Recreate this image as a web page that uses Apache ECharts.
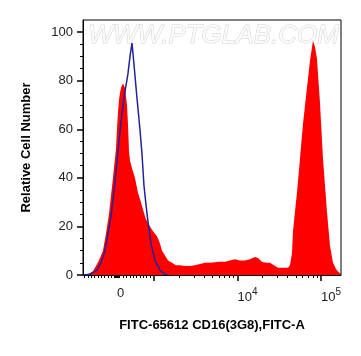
<!DOCTYPE html>
<html>
<head>
<meta charset="utf-8">
<script src="https://cdn.jsdelivr.net/npm/echarts@6/dist/echarts.min.js"></script>
<style>
html,body{margin:0;padding:0;background:#fff;}
#chart{width:361px;height:356px;}
</style>
</head>
<body>
<div id="chart"></div>
<script>
// x values are in biexponential display units (decades: 3 = 10^3, 4 = 10^4, 5 = 10^5; 0 sits at 2.557)
const redX = [2.150,2.210,2.269,2.293,2.341,2.389,2.425,2.461,2.509,2.545,2.557,2.569,2.581,2.593,2.605,2.629,2.653,2.677,2.689,2.701,2.713,
              2.737,2.772,2.808,2.844,2.868,2.904,2.952,2.988,3.036,3.072,3.096,3.132,3.168,3.216,3.263,3.311,3.371,3.431,3.491,3.551,
              3.611,3.671,3.731,3.790,3.850,3.910,3.970,4.030,4.090,4.150,4.210,4.246,4.293,4.341,4.389,4.437,4.485,4.545,4.605,4.629,
              4.653,4.665,4.689,4.713,4.749,4.784,4.832,4.868,4.904,4.928,4.952,4.988,5.024,5.072,5.108,5.144,5.180,5.216,5.240];
const redY = [0,0.3,1.5,3,6,10,17,25,40,52,60,67,72,75,77,79,77,70,62,51,47,
              44,40,34,30,27,23,20,18,16,13,10,8,6,5,4,4,3.7,3.7,4,4.5,
              5,5,5.3,5.5,5.5,6,6.5,6,6,6.5,7.4,7,5.5,5,5,4,3,3,3,4,
              9,18,26,34,48,62,77,88,96.5,94,89,71,48,26,12,5,2.5,1,0.5];

const blueX = [2.150,2.234,2.317,2.365,2.413,2.449,2.485,2.533,2.569,2.605,2.641,2.665,2.689,2.713,2.737,2.760,2.796,2.832,2.856,2.880,2.904,2.928,2.964,3.012,3.072,3.132,3.168];
const blueY = [0,0.3,2,5,10,17,24,38,51,63,73,78,83,90,95.5,87,73,60,50,37,29,22,13,6,2,0.3,0];

const xMajorTicks = [3, 4, 5];
const xLabelValues = [2.557, 4, 5];
const xLabelTexts = ['0', '10|4', '10|5'];
const xMinorTicks = [2.17,2.21,2.25,2.29,2.33,2.37,2.41,2.45,2.49,2.52,2.53,2.54,2.55,2.56,2.57,2.58,2.59,2.63,2.67,2.71,2.75,2.79,2.83,2.87,2.91,2.95,
                     3.301,3.477,3.602,3.699,3.778,3.845,3.903,3.954,
                     4.301,4.477,4.602,4.699,4.778,4.845,4.903,4.954];
const yMajorTicks = [0, 20, 40, 60, 80, 100];
const yMinorTicks = [5,10,15,25,30,35,45,50,55,65,70,75,85,90,95];

const FONT = '"Liberation Sans", Arial, sans-serif';
const xMin = 2.15, xMax = 5.24, yMin = 0, yMax = 105;

const chart = echarts.init(document.getElementById('chart'), null, {renderer: 'canvas'});

function xLabelFmt(v) {
  let best = 0;
  for (let i = 0; i < xLabelValues.length; i++) {
    if (Math.abs(xLabelValues[i] - v) < Math.abs(xLabelValues[best] - v)) best = i;
  }
  const t = xLabelTexts[best];
  if (t.indexOf('|') < 0) return '{b|' + t + '}';
  const p = t.split('|');
  return '{b|' + p[0] + '}{s|' + p[1] + '}';
}

const option = {
  animation: false,
  backgroundColor: '#fff',
  grid: {left: 83, right: 20, top: 20, bottom: 81, show: true, borderColor: '#000', borderWidth: 1, backgroundColor: 'transparent', containLabel: false},
  graphic: [{
    type: 'text', left: 88, top: 22, z: 0,
    style: {text: 'WWW.PTGLAB.COM', font: 'italic 26px ' + FONT, fill: '#fbfbfb', stroke: '#d2d2d2', lineWidth: 1}
  }],
  xAxis: [{
    type: 'value', min: xMin, max: xMax, position: 'bottom',
    axisLine: {show: true, lineStyle: {color: '#000', width: 1}},
    axisTick: {show: true, length: 6, customValues: xMajorTicks, lineStyle: {color: '#000', width: 1.5}},
    axisLabel: {show: true, customValues: xLabelValues, formatter: xLabelFmt, align: 'left', margin: 12, color: '#222',
      rich: {b: {fontSize: 13, fontFamily: FONT, color: '#222'}, s: {fontSize: 10, fontFamily: FONT, color: '#222', padding: [0, 0, 11, 0]}}},
    splitLine: {show: false},
    name: 'FITC-65612 CD16(3G8),FITC-A', nameLocation: 'middle', nameGap: 44,
    nameTextStyle: {fontSize: 13, fontWeight: 'bold', fontFamily: FONT, color: '#000'}
  }, {
    type: 'value', min: xMin, max: xMax, position: 'bottom', offset: 0,
    axisLine: {show: false},
    axisTick: {show: true, length: 3, customValues: xMinorTicks, lineStyle: {color: '#000', width: 1}},
    axisLabel: {show: false}, splitLine: {show: false}
  }],
  yAxis: [{
    type: 'value', min: yMin, max: yMax, position: 'left',
    axisLine: {show: true, lineStyle: {color: '#000', width: 1}},
    axisTick: {show: true, length: 6, customValues: yMajorTicks, lineStyle: {color: '#000', width: 1.5}},
    axisLabel: {show: true, customValues: yMajorTicks, margin: 10, fontSize: 13, fontFamily: FONT, color: '#222'},
    splitLine: {show: false},
    name: 'Relative Cell Number', nameLocation: 'middle', nameGap: 50,
    nameTextStyle: {fontSize: 13, fontWeight: 'bold', fontFamily: FONT, color: '#000'}
  }, {
    type: 'value', min: yMin, max: yMax, position: 'left', offset: 0,
    axisLine: {show: false},
    axisTick: {show: true, length: 3, customValues: yMinorTicks, lineStyle: {color: '#000', width: 1}},
    axisLabel: {show: false}, splitLine: {show: false}
  }],
  series: [{
    type: 'line', xAxisIndex: 0, yAxisIndex: 0, z: 2,
    data: redX.map((x, i) => [x, redY[i]]),
    symbol: 'none', lineStyle: {width: 0, color: '#ff0000'},
    areaStyle: {color: '#ff0000', opacity: 1}
  }, {
    type: 'line', xAxisIndex: 0, yAxisIndex: 0, z: 3,
    data: blueX.map((x, i) => [x, blueY[i]]),
    symbol: 'none', lineStyle: {width: 1.5, color: '#22229a'}
  }]
};
chart.setOption(option);
</script>
</body>
</html>
